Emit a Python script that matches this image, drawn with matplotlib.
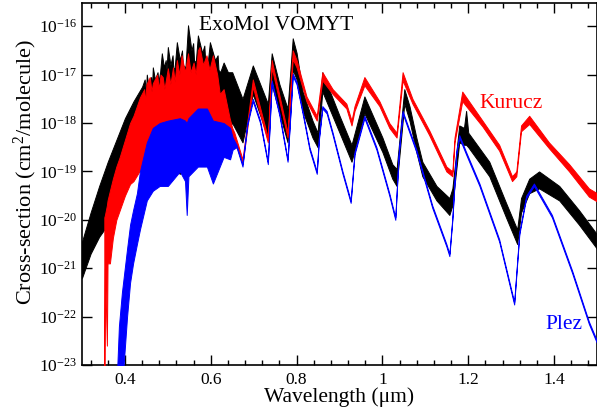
import numpy as np
import matplotlib
matplotlib.use("Agg")
import matplotlib.pyplot as plt
from matplotlib.ticker import MultipleLocator, NullLocator, FuncFormatter, FixedLocator

plt.rcParams['font.family'] = ['Liberation Serif', 'DejaVu Serif']
plt.rcParams['mathtext.fontset'] = 'custom'
plt.rcParams['mathtext.rm'] = 'Liberation Serif'
plt.rcParams['mathtext.it'] = 'Liberation Serif:italic'

# ExoMol VOMYT: wavelength (um), upper / lower edge of the band (log10 cm^2/molecule)
exomol_wl = [0.300, 0.320, 0.340, 0.360, 0.380, 0.400, 0.420, 0.440, 0.446, 0.449,
             0.451, 0.456, 0.461, 0.463, 0.465, 0.470, 0.476, 0.478, 0.482, 0.486,
             0.491, 0.495, 0.497, 0.500, 0.506, 0.511, 0.513, 0.516, 0.521, 0.528,
             0.533, 0.535, 0.541, 0.547, 0.555, 0.559, 0.561, 0.565, 0.570, 0.580,
             0.585, 0.587, 0.593, 0.598, 0.610, 0.616, 0.618, 0.622, 0.630, 0.640,
             0.650, 0.674, 0.698, 0.733, 0.742, 0.760, 0.779, 0.791, 0.800, 0.814,
             0.837, 0.849, 0.860, 0.900, 0.928, 0.958, 1.000, 1.023, 1.033, 1.051,
             1.063, 1.079, 1.093, 1.126, 1.156, 1.163, 1.179, 1.190, 1.195, 1.200,
             1.249, 1.288, 1.314, 1.323, 1.342, 1.365, 1.412, 1.458, 1.500]
exomol_hi = [-20.45, -19.85, -19.30, -18.80, -18.35, -17.90, -17.55, -17.25, -17.10, -17.35,
             -17.00, -17.30, -17.05, -17.30, -16.85, -17.10, -16.95, -17.15, -16.95, -16.56,
             -16.85, -16.70, -16.90, -16.43, -16.80, -16.60, -16.90, -16.85, -16.33, -16.70,
             -16.50, -16.80, -16.85, -15.98, -16.50, -16.35, -16.70, -16.75, -16.19, -16.55,
             -16.40, -16.70, -16.75, -16.33, -16.70, -16.60, -16.90, -16.95, -16.75, -16.95,
             -16.95, -17.50, -16.81, -17.60, -16.56, -17.20, -17.70, -16.25, -16.55, -17.35,
             -17.95, -18.20, -16.95, -17.85, -18.45, -17.45, -18.30, -18.85, -18.95, -17.30,
             -17.65, -18.30, -18.80, -19.30, -19.55, -19.35, -18.05, -18.10, -17.75, -18.20,
             -18.80, -19.65, -20.20, -19.55, -19.15, -19.00, -19.30, -19.80, -20.30]
exomol_lo = [-21.20, -20.70, -20.35, -20.10, -19.90, -19.30, -19.00, -18.80, -18.70, -18.65,
             -18.60, -18.60, -18.60, -18.60, -18.60, -18.65, -18.65, -18.70, -18.70, -18.70,
             -18.75, -18.75, -18.80, -18.80, -18.85, -18.90, -18.90, -18.95, -19.00, -19.05,
             -19.00, -18.95, -18.90, -18.80, -18.70, -18.65, -18.60, -18.60, -18.55, -18.50,
             -18.50, -18.45, -18.45, -18.40, -18.35, -18.30, -18.30, -18.30, -18.20, -18.10,
             -18.00, -18.40, -17.40, -18.30, -17.20, -17.80, -18.40, -16.90, -17.10, -17.75,
             -18.30, -18.50, -17.35, -18.20, -18.80, -17.80, -18.60, -19.15, -19.30, -17.60,
             -17.95, -18.60, -19.10, -19.60, -19.90, -19.70, -18.40, -18.45, -18.45, -18.50,
             -19.10, -19.95, -20.50, -19.85, -19.45, -19.35, -19.60, -20.10, -20.60]

# Kurucz
kurucz_wl = [0.352, 0.3535, 0.358, 0.3595, 0.365, 0.372, 0.380, 0.388, 0.400, 0.412,
             0.420, 0.435, 0.445, 0.447, 0.450, 0.458, 0.462, 0.465, 0.475, 0.479,
             0.483, 0.488, 0.492, 0.500, 0.506, 0.512, 0.516, 0.521, 0.527, 0.532,
             0.540, 0.547, 0.553, 0.560, 0.565, 0.570, 0.574, 0.582, 0.590, 0.597,
             0.605, 0.615, 0.621, 0.630, 0.637, 0.644, 0.650, 0.655, 0.674, 0.698,
             0.733, 0.742, 0.779, 0.791, 0.800, 0.823, 0.847, 0.860, 0.884, 0.916,
             0.928, 0.935, 0.958, 0.993, 1.016, 1.033, 1.047, 1.070, 1.109, 1.149,
             1.163, 1.168, 1.186, 1.233, 1.272, 1.302, 1.312, 1.323, 1.342, 1.388,
             1.435, 1.481, 1.500]
kurucz_hi = [-19.95, -19.90, -19.70, -19.60, -19.40, -19.15, -18.90, -18.70, -18.35, -18.00,
             -17.85, -17.47, -17.30, -17.60, -17.20, -17.05, -17.35, -17.18, -17.00, -17.30,
             -17.00, -17.05, -17.30, -16.87, -17.20, -16.85, -17.15, -16.70, -17.00, -16.60,
             -16.95, -16.56, -16.95, -16.75, -17.00, -16.50, -16.43, -16.80, -16.60, -16.90,
             -16.60, -17.00, -17.40, -17.30, -17.60, -17.90, -18.10, -18.20, -18.75, -17.10,
             -18.30, -16.70, -18.20, -16.50, -16.70, -17.45, -17.85, -16.95, -17.30, -17.60,
             -17.95, -17.65, -17.05, -17.55, -18.00, -18.20, -16.95, -17.50, -18.15, -18.90,
             -19.00, -18.30, -17.35, -17.95, -18.45, -19.10, -19.00, -18.05, -17.85, -18.40,
             -18.85, -19.35, -19.45]
kurucz_lo = [-23.50, -21.00, -22.60, -20.90, -20.90, -20.37, -20.00, -19.80, -19.50, -19.26,
             -19.20, -18.98, -18.90, -18.85, -18.80, -18.60, -18.55, -18.50, -18.50, -18.50,
             -18.50, -18.50, -18.50, -18.50, -18.55, -18.55, -18.60, -18.60, -18.60, -18.60,
             -18.65, -18.65, -18.55, -18.50, -18.40, -18.30, -18.30, -18.25, -18.25, -18.20,
             -18.20, -18.30, -18.40, -18.50, -18.55, -18.60, -18.50, -18.35, -18.85, -17.25,
             -18.40, -16.85, -18.30, -16.68, -16.85, -17.55, -17.95, -17.12, -17.40, -17.70,
             -18.05, -17.75, -17.22, -17.65, -18.10, -18.30, -17.12, -17.60, -18.25, -19.00,
             -19.10, -18.40, -17.55, -18.07, -18.57, -19.20, -19.10, -18.17, -18.02, -18.52,
             -19.00, -19.52, -19.62]

# Plez
plez_wl = [0.381, 0.386, 0.393, 0.405, 0.412, 0.419, 0.428, 0.435, 0.451, 0.465,
           0.481, 0.500, 0.528, 0.540, 0.544, 0.548, 0.570, 0.591, 0.605, 0.630,
           0.645, 0.651, 0.660, 0.674, 0.685, 0.698, 0.715, 0.733, 0.742, 0.760,
           0.779, 0.791, 0.800, 0.815, 0.830, 0.847, 0.852, 0.860, 0.870, 0.884,
           0.907, 0.926, 0.935, 0.958, 0.986, 1.016, 1.030, 1.038, 1.047, 1.079,
           1.116, 1.149, 1.156, 1.163, 1.172, 1.179, 1.195, 1.226, 1.272, 1.307,
           1.319, 1.335, 1.353, 1.395, 1.442, 1.481, 1.500]
plez_hi = [-23.30, -22.20, -21.50, -20.60, -20.10, -19.80, -19.45, -19.00, -18.40, -18.10,
           -18.00, -17.95, -17.90, -17.95, -18.00, -17.90, -17.70, -17.70, -17.95, -18.00,
           -18.10, -18.30, -18.45, -18.85, -18.00, -17.50, -17.95, -18.80, -17.12, -17.80,
           -18.75, -16.98, -17.15, -17.80, -18.50, -19.00, -18.30, -17.65, -17.75, -18.20,
           -19.00, -19.60, -18.60, -17.85, -18.50, -19.45, -19.95, -18.60, -17.75, -18.55,
           -19.70, -20.50, -20.70, -19.95, -18.60, -18.25, -18.60, -19.25, -20.40, -21.70,
           -20.25, -19.50, -19.25, -19.90, -21.05, -22.10, -22.50]
plez_lo = [-23.50, -23.50, -23.50, -22.00, -21.30, -20.90, -20.50, -20.20, -19.60, -19.40,
           -19.30, -19.30, -19.00, -19.20, -19.90, -19.10, -18.90, -18.90, -19.25, -18.70,
           -18.75, -18.55, -18.50, -18.90, -18.05, -17.55, -18.00, -18.85, -17.17, -17.85,
           -18.80, -17.03, -17.20, -17.85, -18.55, -19.05, -18.35, -17.70, -17.80, -18.25,
           -19.05, -19.65, -18.65, -17.90, -18.55, -19.50, -20.00, -18.65, -17.80, -18.60,
           -19.75, -20.55, -20.75, -20.00, -18.65, -18.30, -18.65, -19.30, -20.45, -21.75,
           -20.30, -19.55, -19.30, -19.95, -21.10, -22.15, -22.55]

decades = [-23, -22, -21, -20, -19, -18, -17, -16]

fig = plt.figure(figsize=(5.97, 4.18), dpi=100)
ax = fig.add_axes([82 / 597, 1 - 365 / 418, 515 / 597, 362 / 418])

for wl, hi, lo, col, z in [(exomol_wl, exomol_hi, exomol_lo, 'black', 2),
                           (kurucz_wl, kurucz_hi, kurucz_lo, '#ff0000', 3),
                           (plez_wl, plez_hi, plez_lo, '#0000ff', 4)]:
    ax.fill_between(wl, 10.0 ** np.array(lo), 10.0 ** np.array(hi),
                    facecolor=col, edgecolor=col, linewidth=0.7, zorder=z)

ax.set_yscale('log')
ax.set_xlim(0.3, 1.5)
ax.set_ylim(1e-23, 10 ** -15.52)

ax.xaxis.set_major_locator(MultipleLocator(0.2))
ax.xaxis.set_minor_locator(MultipleLocator(0.04))
ax.xaxis.set_major_formatter(FuncFormatter(lambda v, p: '%g' % round(v, 2)))
ax.yaxis.set_major_locator(FixedLocator([10.0 ** d for d in decades]))
ax.yaxis.set_minor_locator(NullLocator())

ax.tick_params(which='both', direction='in', top=True, right=True, labelsize=12.5)
ax.tick_params(which='major', length=7, width=1.0)
ax.tick_params(which='minor', length=3.5, width=1.0)
ax.tick_params(axis='y', pad=3.5)
ax.tick_params(axis='x', pad=5)
for s in ax.spines.values():
    s.set_linewidth(1.2)

fig.text(339 / 597, 1 - 397 / 418, 'Wavelength (μm)', fontsize=15.5, ha='center', va='center')
fig.text(25 / 597, 1 - 172 / 418, 'Cross-section (cm$^2$/molecule)', fontsize=16,
         ha='center', va='center', rotation=90)

ax.text(0.572, 10 ** -15.98, 'ExoMol VOMYT', fontsize=15.5, color='black', ha='left', va='center', zorder=6)
ax.text(1.226, 10 ** -17.59, 'Kurucz', fontsize=15.5, color='#ff0000', ha='left', va='center', zorder=6)
ax.text(1.379, 10 ** -22.17, 'Plez', fontsize=15.5, color='#0000ff', ha='left', va='center', zorder=6)

fig.savefig('out.png', dpi=100)
